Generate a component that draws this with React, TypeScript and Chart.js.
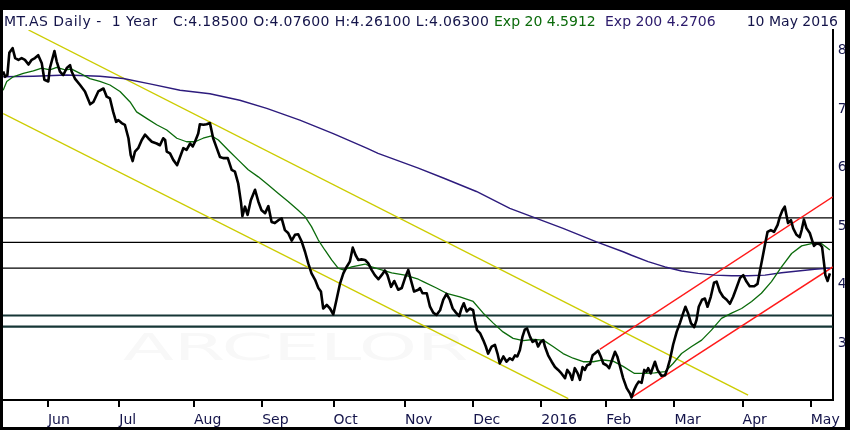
import { Chart, registerables } from 'chart.js';
import { useRef, useEffect } from 'react';
Chart.register(...registerables);

// x = trading day index (0 = mid May 2015), y = price in EUR
const closes: [number, number][] = [
  [0.2, 7.64], [0.8, 7.55], [1.5, 7.58], [2.1, 7.96], [3.1, 8.04], [3.9, 7.87], [4.9, 7.84], [5.9, 7.87],
  [6.9, 7.84], [8.0, 7.76], [9.0, 7.84], [10.0, 7.87], [11.0, 7.92], [12.1, 7.78], [12.9, 7.5], [14.1, 7.47],
  [14.6, 7.7], [16.0, 7.99], [16.7, 7.81], [17.7, 7.64], [18.7, 7.58], [19.8, 7.7], [20.8, 7.75], [21.3, 7.64],
  [22.3, 7.52], [23.9, 7.41], [25.4, 7.3], [27.0, 7.08], [28.0, 7.12], [29.5, 7.3], [31.1, 7.35], [32.1, 7.21],
  [33.1, 7.18], [34.1, 6.95], [35.0, 6.78], [35.7, 6.81], [36.7, 6.76], [37.7, 6.73], [38.8, 6.5], [39.5, 6.21],
  [40.1, 6.11], [40.8, 6.27], [41.8, 6.33], [42.9, 6.47], [43.9, 6.56], [44.9, 6.5], [46.0, 6.44], [47.5, 6.41],
  [48.5, 6.38], [49.5, 6.5], [50.1, 6.47], [50.6, 6.27], [51.6, 6.24], [52.6, 6.13], [53.8, 6.04], [54.7, 6.18],
  [55.7, 6.33], [56.7, 6.3], [57.8, 6.41], [58.6, 6.36], [59.3, 6.44], [60.3, 6.58], [60.8, 6.74], [61.9, 6.73],
  [62.9, 6.74], [63.9, 6.76], [64.9, 6.5], [66.0, 6.33], [67.0, 6.18], [68.0, 6.16], [69.4, 6.16], [70.6, 5.96],
  [71.6, 5.93], [72.6, 5.73], [73.5, 5.39], [73.9, 5.17], [74.7, 5.33], [75.5, 5.19], [76.5, 5.44], [77.8, 5.62],
  [78.8, 5.42], [79.8, 5.27], [80.9, 5.22], [81.9, 5.34], [82.9, 5.07], [83.9, 5.05], [85.0, 5.1], [86.0, 5.13],
  [87.0, 4.93], [88.0, 4.88], [89.1, 4.75], [90.1, 4.85], [91.1, 4.86], [92.2, 4.73], [93.2, 4.56], [94.2, 4.36],
  [95.2, 4.19], [96.3, 4.08], [97.3, 3.94], [98.1, 3.88], [98.8, 3.59], [99.9, 3.65], [100.9, 3.59], [101.9, 3.49],
  [102.9, 3.74], [104.0, 4.02], [105.0, 4.19], [106.0, 4.3], [107.0, 4.39], [107.9, 4.63], [108.8, 4.5], [109.6, 4.42],
  [110.6, 4.43], [111.7, 4.42], [112.7, 4.36], [113.7, 4.25], [114.7, 4.16], [115.8, 4.09], [116.8, 4.16], [117.8, 4.24],
  [118.6, 4.16], [119.7, 3.96], [120.7, 4.06], [121.9, 3.91], [123.0, 3.94], [124.0, 4.11], [125.0, 4.25], [125.8, 4.08],
  [126.8, 3.88], [128.1, 3.91], [128.6, 3.94], [129.4, 3.85], [130.7, 3.85], [131.7, 3.62], [132.7, 3.52], [133.7, 3.48],
  [134.8, 3.56], [135.8, 3.74], [136.8, 3.84], [137.8, 3.74], [138.7, 3.59], [139.7, 3.52], [140.7, 3.46], [141.4, 3.59],
  [142.1, 3.68], [143.0, 3.54], [144.0, 3.59], [145.0, 3.56], [145.5, 3.39], [146.2, 3.22], [147.1, 3.17], [148.1, 3.05],
  [148.9, 2.94], [149.6, 2.82], [150.7, 2.94], [151.7, 2.97], [152.5, 2.82], [153.2, 2.65], [154.3, 2.77], [155.3, 2.68],
  [156.3, 2.74], [157.1, 2.71], [157.9, 2.79], [158.6, 2.77], [159.4, 2.88], [160.2, 3.11], [160.9, 3.23], [161.6, 3.25],
  [162.5, 3.11], [163.3, 3.02], [164.3, 3.05], [165.0, 2.94], [165.8, 3.02], [166.6, 3.05], [167.1, 2.94], [168.1, 2.79],
  [169.2, 2.68], [170.2, 2.59], [171.2, 2.54], [172.2, 2.48], [173.3, 2.4], [174.0, 2.54], [174.8, 2.48], [175.5, 2.37],
  [176.3, 2.57], [177.2, 2.48], [177.9, 2.37], [178.7, 2.59], [179.4, 2.54], [180.1, 2.62], [181.0, 2.64], [181.8, 2.79],
  [182.5, 2.82], [183.5, 2.87], [184.3, 2.77], [185.1, 2.65], [186.1, 2.62], [186.9, 2.57], [187.6, 2.68], [188.7, 2.85],
  [189.4, 2.77], [190.2, 2.61], [191.2, 2.4], [192.3, 2.23], [193.3, 2.14], [193.8, 2.07], [194.6, 2.2], [195.3, 2.28],
  [196.0, 2.34], [196.9, 2.32], [197.7, 2.54], [198.4, 2.51], [198.9, 2.57], [199.7, 2.48], [201.0, 2.68], [201.8, 2.54],
  [203.0, 2.44], [204.1, 2.45], [204.9, 2.57], [205.6, 2.71], [206.6, 2.97], [207.7, 3.19], [208.7, 3.34], [209.7, 3.51],
  [210.4, 3.62], [211.2, 3.51], [212.1, 3.34], [213.1, 3.27], [213.8, 3.39], [214.5, 3.62], [215.5, 3.74], [216.4, 3.76],
  [217.2, 3.62], [218.2, 3.79], [219.2, 4.03], [220.0, 4.05], [221.0, 3.88], [222.0, 3.79], [223.1, 3.74], [224.1, 3.67],
  [225.1, 3.79], [226.1, 3.94], [227.2, 4.11], [228.2, 4.16], [229.2, 4.05], [230.2, 3.97], [231.6, 3.97], [232.6, 4.01],
  [233.3, 4.22], [234.0, 4.42], [234.9, 4.68], [235.7, 4.9], [236.7, 4.93], [237.7, 4.9], [238.8, 5.02], [239.5, 5.16],
  [240.3, 5.27], [241.0, 5.33], [241.5, 5.19], [242.0, 5.05], [242.9, 5.1], [243.6, 4.96], [244.6, 4.85], [245.6, 4.81],
  [246.2, 4.93], [246.9, 5.11], [247.7, 4.96], [248.7, 4.88], [249.4, 4.76], [250.0, 4.66], [250.8, 4.7], [251.8, 4.69],
  [252.5, 4.64], [253.1, 4.36], [253.5, 4.16], [254.2, 4.06], [254.9, 4.19],
];

const exp20: [number, number][] = [
  [0.2, 7.32], [1.3, 7.47], [3.3, 7.55], [6.4, 7.61], [9.5, 7.65], [12.1, 7.7], [14.6, 7.67], [16.7, 7.71],
  [19.3, 7.67], [21.3, 7.68], [23.9, 7.61], [26.9, 7.52], [30.0, 7.47], [33.1, 7.41], [36.2, 7.3], [39.3, 7.12],
  [41.3, 6.95], [44.4, 6.84], [47.5, 6.73], [50.6, 6.64], [53.7, 6.5], [56.7, 6.44], [59.3, 6.44], [61.8, 6.5],
  [64.4, 6.54], [66.5, 6.47], [69.5, 6.3], [72.6, 6.13], [75.7, 5.96], [78.8, 5.84], [81.9, 5.7], [84.9, 5.56],
  [88.0, 5.42], [91.1, 5.27], [93.2, 5.16], [95.2, 4.99], [97.3, 4.76], [99.3, 4.59], [101.4, 4.42], [103.4, 4.28],
  [105.0, 4.25], [107.6, 4.3], [111.7, 4.35], [113.7, 4.3], [116.8, 4.25], [119.9, 4.2], [124.0, 4.16], [128.1, 4.09],
  [129.6, 4.05], [133.7, 3.94], [136.8, 3.85], [140.9, 3.79], [145.0, 3.71], [148.1, 3.51], [151.2, 3.34], [154.2, 3.19],
  [157.3, 3.08], [160.4, 3.04], [163.5, 3.06], [166.6, 3.05], [169.6, 2.94], [172.7, 2.82], [175.8, 2.74], [178.9, 2.68],
  [182.0, 2.68], [185.0, 2.71], [188.1, 2.69], [191.2, 2.6], [194.7, 2.48], [197.8, 2.48], [200.9, 2.49], [204.1, 2.51],
  [206.6, 2.65], [209.2, 2.82], [212.3, 2.94], [215.4, 3.05], [218.4, 3.22], [221.5, 3.42], [224.6, 3.51], [227.7, 3.59],
  [230.8, 3.71], [233.8, 3.85], [236.9, 4.05], [240.0, 4.3], [243.1, 4.53], [246.2, 4.66], [249.2, 4.7], [252.3, 4.7],
  [254.9, 4.59],
];

const exp200: [number, number][] = [
  [0.2, 7.55], [9.5, 7.56], [19.8, 7.58], [30.0, 7.56], [37.2, 7.52], [45.4, 7.43], [54.7, 7.32], [63.9, 7.26],
  [73.1, 7.15], [81.4, 7.01], [91.6, 6.81], [101.9, 6.58], [112.2, 6.33], [115.7, 6.24], [128.1, 5.99], [135.8, 5.82],
  [146.0, 5.59], [156.3, 5.3], [164.5, 5.13], [172.7, 4.96], [183.0, 4.73], [191.2, 4.56], [193.8, 4.5], [198.9, 4.39],
  [204.1, 4.3], [209.2, 4.23], [214.3, 4.19], [219.5, 4.16], [224.6, 4.15], [229.7, 4.15], [234.9, 4.16], [240.0, 4.2],
  [245.1, 4.23], [250.2, 4.26], [254.9, 4.28],
];

// trend channels (start, end)
const downUpper: [number, number][] = [[8.0, 8.35], [229.7, 2.11]];
const downLower: [number, number][] = [[0.2, 6.92], [174.3, 2.05]];
const upUpper: [number, number][] = [[184.0, 2.89], [255.8, 5.5]];
const upLower: [number, number][] = [[193.8, 2.07], [255.8, 4.3]];

// horizontal levels
const resistance = [5.14, 4.72, 4.28];
const support = [3.47, 3.28];

const monthLabels = ['Jun', 'Jul', 'Aug', 'Sep', 'Oct', 'Nov', 'Dec', '2016', 'Feb', 'Mar', 'Apr', 'May'];
const monthStarts = [14, 36, 59, 80, 102, 124, 145, 166, 186, 207, 228, 249];
const priceTicks = [3, 4, 5, 6, 7, 8];

const X_MIN = 0.15;
const X_MAX = 255.8;

const FONT = "'DejaVu Sans', Verdana, sans-serif";
const NAVY = '#14144a';

const toXY = (pts: [number, number][]) => pts.map(([x, y]) => ({ x, y }));
const flat = (v: number) => [{ x: X_MIN, y: v }, { x: X_MAX, y: v }];

const line = (data: any, color: string, width: number) => ({
    data,
    borderColor: color,
    borderWidth: width,
    pointRadius: 0,
    tension: 0,
    fill: false,
    borderJoinStyle: 'round' as const,
});

const App = () => {
    const chartRef = useRef<HTMLCanvasElement>(null);

    useEffect(() => {
        let myChart: any = null;

        if (chartRef.current) {
            myChart = new Chart(chartRef.current, {
                type: 'line',
                data: {
                    datasets: [
                        line(toXY(closes), '#000000', 2.6),
                        line(toXY(exp20), '#0b6b0b', 1.3),
                        line(toXY(exp200), '#2d1b7d', 1.4),
                        line(toXY(upUpper), '#ff1a1a', 1.4),
                        line(toXY(upLower), '#ff1a1a', 1.4),
                        line(toXY(downUpper), '#cccc00', 1.4),
                        line(toXY(downLower), '#cccc00', 1.4),
                        ...resistance.map(v => line(flat(v), '#000000', 1.2)),
                        ...support.map(v => line(flat(v), '#163636', 2.2)),
                    ]
                },
                options: {
                    animation: false,
                    responsive: false,
                    maintainAspectRatio: false,
                    layout: { padding: { top: 20, left: 0, right: 0, bottom: 0 } },
                    plugins: {
                        legend: { display: false },
                        tooltip: { enabled: false }
                    },
                    scales: {
                        x: {
                            type: 'linear',
                            min: X_MIN,
                            max: X_MAX,
                            afterBuildTicks: (scale: any) => {
                                scale.ticks = monthStarts.map(v => ({ value: v }));
                            },
                            afterFit: (scale: any) => {
                                scale.height = 27;
                            },
                            ticks: {
                                autoSkip: false,
                                maxRotation: 0,
                                align: 'start',
                                padding: 5,
                                color: NAVY,
                                font: { family: FONT, size: 14 },
                                callback: (value: any) => monthLabels[monthStarts.indexOf(value)]
                            },
                            grid: {
                                drawOnChartArea: false,
                                drawTicks: true,
                                tickLength: 7,
                                lineWidth: 2,
                                color: '#000000'
                            },
                            border: { display: true, color: '#000000', width: 2 }
                        },
                        y: {
                            type: 'linear',
                            position: 'right',
                            min: 2.026,
                            max: 8.35,
                            afterBuildTicks: (scale: any) => {
                                scale.ticks = priceTicks.map(v => ({ value: v }));
                            },
                            afterFit: (scale: any) => {
                                scale.width = 12;
                            },
                            ticks: {
                                padding: 5,
                                color: NAVY,
                                font: { family: FONT, size: 14 }
                            },
                            grid: { drawOnChartArea: false, drawTicks: false },
                            border: { display: true, color: '#000000', width: 2 }
                        }
                    }
                }
            });
        }

        return () => {
            if (myChart) {
                myChart.destroy();
            }
        }
    }, []);

    const head = { position: 'absolute' as const, top: 3, fontFamily: FONT, fontSize: 14, lineHeight: '16px', whiteSpace: 'pre' as const };

    return (
        <div style={{ position: 'fixed', left: 0, top: 0, width: 850, height: 430, background: '#000' }}>
            <div style={{ position: 'absolute', left: 3, top: 10, width: 842, height: 417, background: '#fff', overflow: 'hidden' }}>
                <div style={{
                    position: 'absolute', left: 120, top: 317, fontFamily: FONT, fontSize: 38, lineHeight: '40px',
                    color: '#f8f8f8', transform: 'scaleX(1.95)', transformOrigin: 'left top', whiteSpace: 'pre'
                }}>ARCELOR</div>
                <canvas ref={chartRef} width={842} height={417} style={{ position: 'absolute', left: 0, top: 0, width: 842, height: 417 }}></canvas>
                <span style={{ ...head, left: 1, color: NAVY, letterSpacing: '0.5px' }}>MT.AS Daily -  1 Year</span>
                <span style={{ ...head, left: 170, color: NAVY, letterSpacing: '0.35px' }}>C:4.18500 O:4.07600 H:4.26100 L:4.06300</span>
                <span style={{ ...head, left: 491, color: '#0b6b0b' }}>Exp 20 4.5912</span>
                <span style={{ ...head, left: 602, color: '#2b1a6b' }}>Exp 200 4.2706</span>
                <span style={{ ...head, right: 7, color: NAVY }}>10 May 2016</span>
            </div>
        </div>
    );
};

export default App;
